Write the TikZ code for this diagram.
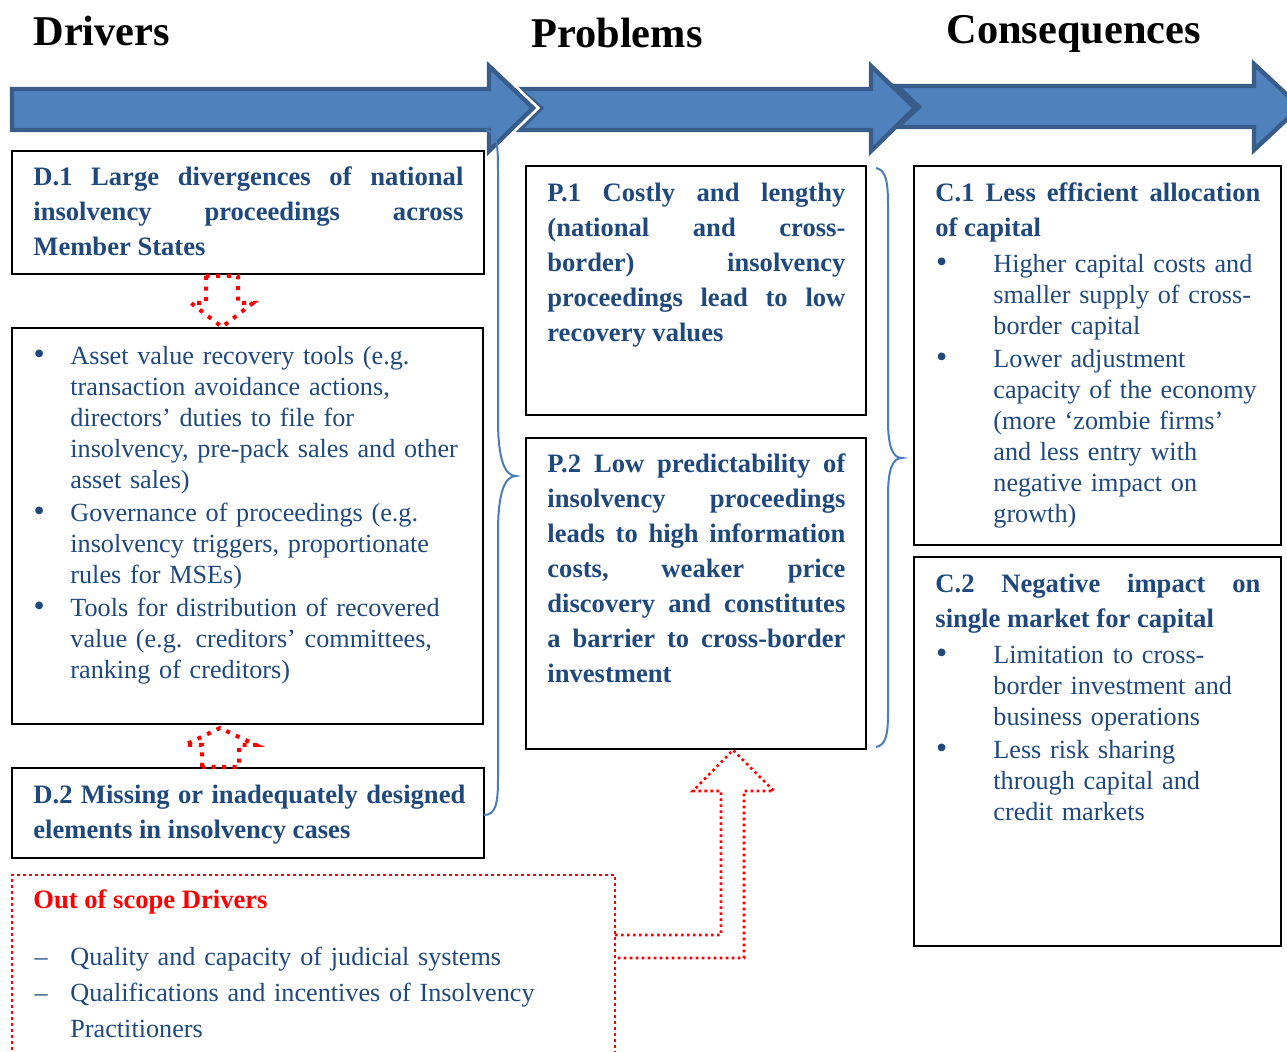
\documentclass[tikz,border=0pt]{standalone}
\usepackage{fontspec}
\setmainfont{Liberation Serif}
\usetikzlibrary{fit}

\definecolor{arrowfill}{RGB}{79,129,189}
\definecolor{arrowline}{RGB}{56,93,138}
\definecolor{textblue}{RGB}{31,73,125}
\definecolor{bracecol}{RGB}{74,126,187}

\newcommand{\bul}[1]{\leavevmode\llap{{\fontsize{16}{15.5}\selectfont\textbullet}\hspace{#1}}}
\newcommand{\dsh}{\leavevmode\llap{--\hspace{11.4pt}}}

\begin{document}
\begin{tikzpicture}[
                    x=0.5pt,
                    y=-0.5pt,
                    frame/.style={draw=black, line width=1.1pt, inner sep=0pt},
                    outframe/.style={draw=red, line width=1.3pt, dash pattern=on 1.3pt off 1.7pt, inner sep=0pt},
                    flowarrow/.style={fill=arrowfill, draw=arrowline, line width=2.2pt, line join=miter},
                    dotblock/.style={draw=red, line width=2pt, dash pattern=on 2pt off 3.3pt},
                    finedot/.style={draw=red, line width=1.3pt, dash pattern=on 1.3pt off 1.7pt},
                    bracecurve/.style={draw=bracecol, line width=1pt},
                    titletext/.style={anchor=base west, inner sep=0pt, font=\fontsize{21.2}{25}\selectfont\bfseries},
                    headtext/.style={anchor=base west, inner sep=0pt, text=textblue, align=justify, font=\fontsize{13.3}{17.5}\selectfont\bfseries},
                    listtext/.style={anchor=base west, inner sep=0pt, text=textblue, align=left, font=\fontsize{13.1}{15.5}\selectfont}
                ]
                \useasboundingbox (0,0) rectangle (1287,1052);

                % column titles
                \node[titletext] (drv) at (33,46) {Drivers};
                \node[titletext] (prb) at (531,48) {Problems};
                \node[titletext] (csq) at (946,44) {Consequences};

                % flow arrows along the top
                \draw[flowarrow] (897,86) -- (1254,86) -- (1254,64) -- (1300,107) -- (1254,150) -- (1254,127) -- (897,127) -- (919,107) -- cycle;
                \draw[flowarrow] (519,89) -- (871,89) -- (871,66) -- (915,108) -- (871,151) -- (871,130) -- (519,130) -- (541,108) -- cycle;
                \draw[flowarrow, preaction={draw=white, line width=5pt}] (12,89) -- (489,89) -- (489,66) -- (533,108) -- (489,151) -- (489,130) -- (12,130) -- cycle;

                % boxes
                \node[frame, fit={(12,151) (484,274)}] (D1) {};
                \node[frame, fit={(12,328) (483,724)}] (Dtools) {};
                \node[frame, fit={(12,768) (484,858)}] (D2) {};
                \node[frame, fit={(526,166) (866,415)}] (P1) {};
                \node[frame, fit={(526,438) (866,749)}] (P2) {};
                \node[frame, fit={(914,166) (1281,545)}] (C1) {};
                \node[frame, fit={(914,557) (1281,946)}] (C2) {};
                \node[outframe, fit={(12,875) (615,1075)}] (OOS) {};

                % drivers
                \node[headtext, text width=215pt] (D1t) at (33,186) {D.1 Large divergences of national\linebreak insolvency proceedings across\linebreak Member States};
                \node[listtext, text width=210pt] (Dtoolst) at (70,365) {\bul{12.8pt}Asset value recovery tools (e.g.\\ transaction avoidance actions,\\ directors’ duties to file for\\ insolvency, pre-pack sales and other\\ asset sales)\\[1pt] \bul{12.8pt}Governance of proceedings (e.g.\\ insolvency triggers, proportionate\\ rules for MSEs)\\[1pt] \bul{12.8pt}Tools for distribution of recovered\\ value (e.g. creditors’ committees,\\ ranking of creditors)};
                \node[headtext, text width=216pt] (D2t) at (33,804) {D.2 Missing or inadequately designed\linebreak elements in insolvency cases};

                % problems
                \node[headtext, text width=149pt] (P1t) at (547,202) {P.1 Costly and lengthy\linebreak (national and cross-\linebreak border) insolvency\linebreak proceedings lead to low\linebreak recovery values};
                \node[headtext, text width=149pt] (P2t) at (547,473) {P.2 Low predictability of\linebreak insolvency proceedings\linebreak leads to high information\linebreak costs, weaker price\linebreak discovery and constitutes\linebreak a barrier to cross-border\linebreak investment};

                % consequences
                \node[headtext, text width=162.5pt] (C1t) at (935,202) {C.1 Less efficient allocation\linebreak of capital};
                \node[listtext, text width=140pt] (C1l) at (993,273) {\bul{23pt}Higher capital costs and\\ smaller supply of cross-\\ border capital\\[1pt] \bul{23pt}Lower adjustment\\ capacity of the economy\\ (more ‘zombie firms’\\ and less entry with\\ negative impact on\\ growth)};
                \node[headtext, text width=162.5pt] (C2t) at (935,593) {C.2 Negative impact on\linebreak single market for capital};
                \node[listtext, text width=140pt] (C2l) at (993,664) {\bul{23pt}Limitation to cross-\\ border investment and\\ business operations\\[1pt] \bul{23pt}Less risk sharing\\ through capital and\\ credit markets};

                % out of scope
                \node[anchor=base west, inner sep=0pt, text=red, font=\fontsize{13.3}{17.5}\selectfont\bfseries] (OOSt) at (33,909) {Out of scope Drivers};
                \node[listtext, text width=250pt, font=\fontsize{13.1}{18}\selectfont] (OOSl) at (70,966) {\dsh Quality and capacity of judicial systems\\ \dsh Qualifications and incentives of Insolvency\\ Practitioners};

                % dotted block arrows
                \draw[dotblock] (206,276) -- (206,303) -- (191,303) -- (222,327) -- (253,303) -- (238,303) -- (238,276) -- cycle;
                \draw[dotblock] (202,767) -- (202,745) -- (185,745) -- (220,728) -- (256,745) -- (239,745) -- (239,767) -- cycle;
                \draw[finedot] (615,935) -- (721,935) -- (721,791) -- (693,791) -- (733,750) -- (774,791) -- (744,791) -- (744,958) -- (615,958);

                % braces
                \draw[bracecurve] (486,130) .. controls (497,132) and (498,145) .. (498,170) -- (498,420) .. controls (498,460) and (505,476) .. (516,476) .. controls (505,476) and (498,492) .. (498,532) -- (498,780) .. controls (498,805) and (495,815) .. (484,815);
                \draw[bracecurve] (876,168) .. controls (886,170) and (888,182) .. (888,205) -- (888,420) .. controls (888,448) and (893,458) .. (902,458) .. controls (893,458) and (888,468) .. (888,496) -- (888,712) .. controls (888,735) and (886,745) .. (876,747);
            \end{tikzpicture}
\end{document}
